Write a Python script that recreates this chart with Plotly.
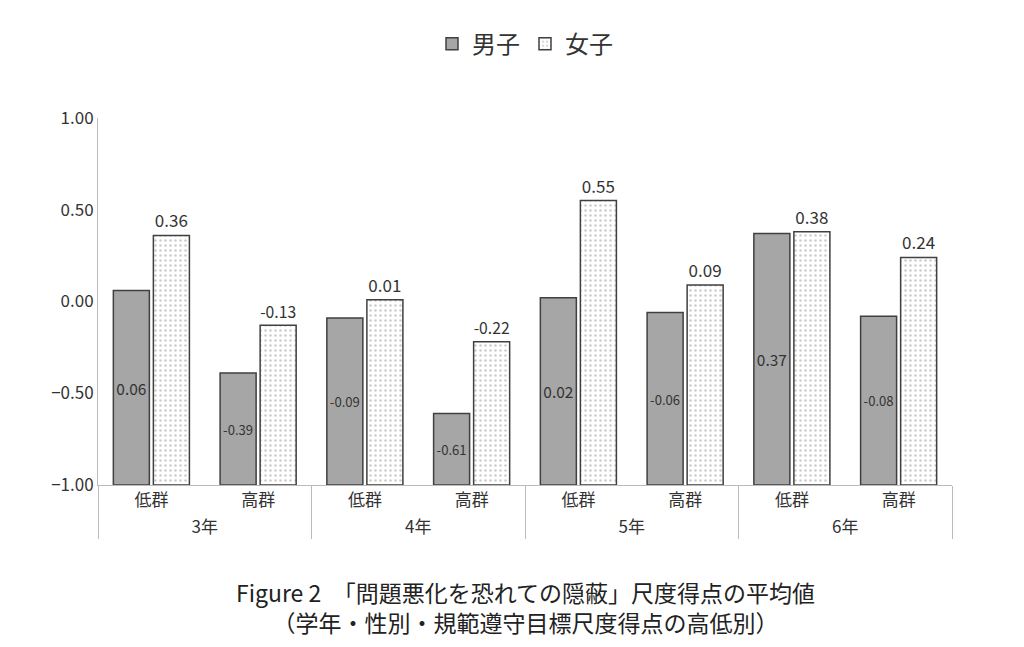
import plotly.graph_objects as go

grades = ["3年", "3年", "4年", "4年", "5年", "5年", "6年", "6年"]
groups = ["低群", "高群", "低群", "高群", "低群", "高群", "低群", "高群"]
boys = [0.06, -0.39, -0.09, -0.61, 0.02, -0.06, 0.37, -0.08]
girls = [0.36, -0.13, 0.01, -0.22, 0.55, 0.09, 0.38, 0.24]
floor = -1.0

font = "Noto Sans CJK JP"

fig = go.Figure()
fig.add_trace(go.Bar(
    x=[grades, groups], y=[v - floor for v in boys], base=floor,
    name="男子", marker=dict(color="#a6a6a6", line=dict(color="#404040", width=1.5)),
    text=[f"{v:.2f}" for v in boys], textposition="inside", insidetextanchor="middle",
    textangle=0, textfont=dict(size=17, color="#333"),
))
fig.add_trace(go.Bar(
    x=[grades, groups], y=[v - floor for v in girls], base=floor,
    name="女子", marker=dict(color="white", line=dict(color="#404040", width=1.5),
                           pattern=dict(shape=".", fgcolor="#999", size=5, solidity=0.2)),
    text=[f"{v:.2f}" for v in girls], textposition="outside", textangle=0,
    textfont=dict(size=17, color="#333"), cliponaxis=False,
))

fig.update_layout(
    width=1024, height=647,
    paper_bgcolor="white", plot_bgcolor="white",
    font=dict(family=font, size=16, color="#333"),
    barmode="group", bargap=0.25, bargroupgap=0.1,
    margin=dict(l=90, r=80, t=110, b=170),
    legend=dict(orientation="h", x=0.5, xanchor="center", y=1.14, yanchor="bottom",
                font=dict(size=24)),
    yaxis=dict(range=[-1, 1.0], dtick=0.5, tickformat=".2f", showgrid=False,
               showline=True, linecolor="#bbb", zeroline=False, tickfont=dict(size=17)),
    xaxis=dict(showline=True, linecolor="#bbb", showdividers=True, dividercolor="#bbb",
               tickfont=dict(size=17)),
)
fig.add_annotation(
    text="Figure 2　「問題悪化を恐れての隠蔽」尺度得点の平均値<br>（学年・性別・規範遵守目標尺度得点の高低別）",
    xref="paper", yref="paper", x=0.5, y=-0.24, xanchor="center", yanchor="top",
    showarrow=False, font=dict(size=23, color="#222"), align="center",
)
fig.write_html("out.html")
